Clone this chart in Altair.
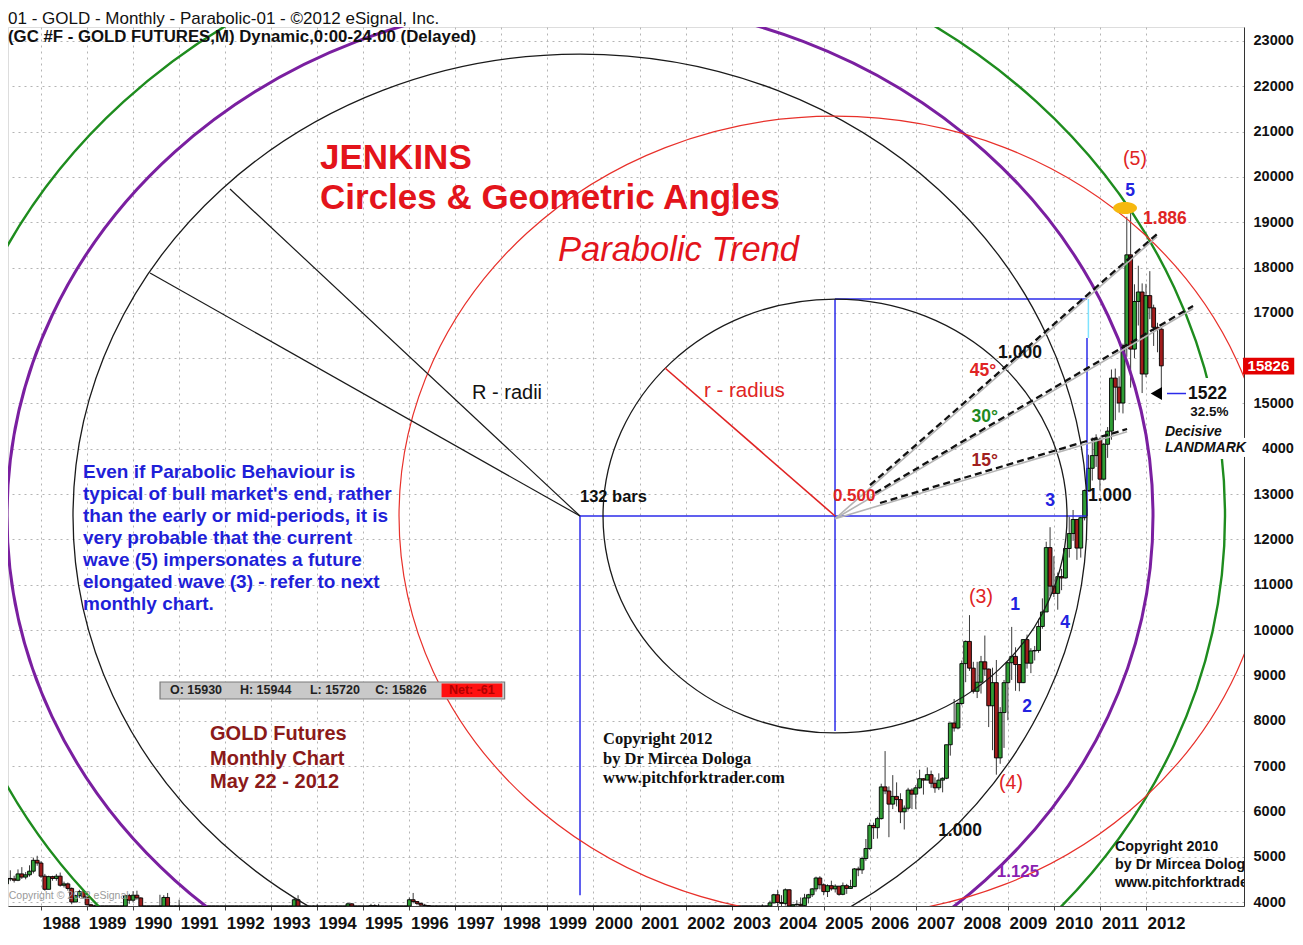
import altair as alt
import pandas as pd

# ---------------- price data: gold futures, monthly bars (US$/oz) from Apr 1987 ----------------
START_YEAR, START_MONTH = 1987, 4
PRICE_MULT = 10  # eSignal quotes the contract in tenths (15826 = 1582.6)

OPEN = [
    [440, 452, 451, 448, 462, 455, 460, 468, 492],                      # 1987 Apr-Dec
    [486, 457, 428, 456, 452, 457, 437, 440, 430, 400, 414, 423],       # 1988
    [411, 394, 389, 385, 379, 365, 374, 373, 360, 367, 377, 414],       # 1989
    [404, 415, 409, 370, 368, 364, 353, 370, 390, 410, 380, 384],       # 1990
    [389, 368, 363, 356, 357, 361, 368, 363, 355, 356, 358, 366],       # 1991
    [353, 354, 353, 342, 337, 337, 343, 357, 339, 349, 339, 334],       # 1992
    [333, 330, 327, 337, 355, 378, 379, 405, 373, 355, 370, 371],       # 1993
    [391, 379, 381, 390, 377, 386, 387, 384, 386, 396, 389, 384],       # 1994
    [384, 376, 376, 392, 390, 385, 388, 384, 383, 384, 383, 388],       # 1995
    [388, 405, 401, 397, 393, 392, 383, 386, 387, 380, 379, 372],       # 1996
    [370, 346, 362, 349, 341, 345, 335, 326, 326, 332, 312, 296],       # 1997
    [290, 304, 297, 301, 309, 294, 297, 289, 274, 295, 292, 294],       # 1998
    [289, 288, 288, 280, 287, 269, 262, 255, 255, 299, 300, 292],       # 1999
    [290, 284, 294, 279, 277, 273, 289, 277, 278, 273, 265, 270],       # 2000
    [274, 266, 267, 258, 264, 267, 271, 265, 273, 293, 279, 275],       # 2001
    [279, 283, 297, 301, 309, 327, 318, 305, 313, 324, 317, 318],       # 2002
    [348, 368, 347, 334, 339, 364, 346, 355, 375, 385, 386, 398],       # 2003
    [416, 399, 397, 427, 388, 394, 395, 392, 409, 416, 429, 453],       # 2004
    [438, 423, 436, 429, 435, 417, 436, 430, 434, 473, 471, 496],       # 2005
    [518, 569, 564, 584, 654, 645, 616, 633, 626, 599, 607, 647],       # 2006
    [638, 652, 672, 669, 681, 662, 652, 669, 673, 747, 795, 784],       # 2007
    [838, 926, 975, 916, 865, 885, 930, 914, 833, 884, 718, 818],       # 2008
    [884, 928, 942, 924, 884, 979, 927, 954, 955, 1008, 1040, 1182],    # 2009
    [1097, 1081, 1118, 1115, 1180, 1213, 1244, 1181, 1248, 1308, 1357, 1385],  # 2010
    [1421, 1333, 1410, 1439, 1556, 1536, 1501, 1628, 1828, 1620, 1725, 1746],  # 2011
    [1565, 1738, 1711, 1668, 1664],                                      # 2012 Jan-May
]
HIGH = [
    [478, 470, 458, 472, 477, 466, 481, 498, 502],
    [490, 462, 458, 458, 462, 465, 445, 443, 432, 416, 427, 428],
    [412, 396, 394, 390, 384, 376, 380, 375, 370, 380, 416, 418],
    [424, 425, 410, 380, 375, 364, 375, 416, 415, 420, 387, 392],
    [405, 370, 365, 362, 362, 372, 372, 365, 359, 363, 368, 368],
    [360, 360, 355, 345, 343, 345, 361, 358, 353, 350, 339, 337],
    [334, 335, 340, 358, 380, 380, 409, 415, 375, 373, 376, 392],
    [395, 389, 393, 390, 390, 392, 388, 387, 399, 397, 391, 384],
    [384, 380, 396, 395, 396, 390, 390, 390, 388, 388, 390, 390],
    [410, 420, 401, 398, 396, 392, 389, 392, 389, 384, 384, 377],
    [370, 366, 364, 352, 350, 345, 336, 331, 336, 336, 316, 299],
    [305, 306, 302, 315, 310, 298, 297, 289, 299, 307, 300, 297],
    [292, 290, 296, 291, 290, 270, 265, 258, 300, 340, 303, 292],
    [295, 316, 295, 290, 280, 294, 292, 281, 280, 276, 272, 276],
    [274, 269, 267, 265, 293, 276, 271, 281, 294, 293, 280, 282],
    [289, 304, 304, 311, 329, 330, 324, 318, 326, 325, 323, 350],
    [383, 389, 354, 342, 376, 372, 366, 377, 395, 392, 403, 418],
    [427, 415, 430, 428, 396, 404, 410, 418, 418, 431, 456, 457],
    [441, 439, 447, 439, 435, 443, 440, 449, 475, 478, 500, 539],
    [575, 575, 588, 661, 733, 655, 680, 664, 640, 613, 652, 651],
    [658, 692, 673, 697, 690, 675, 684, 675, 747, 795, 848, 842],
    [933, 977, 1033, 930, 930, 943, 988, 915, 917, 934, 830, 890],
    [930, 1007, 962, 925, 980, 990, 960, 965, 1025, 1070, 1195, 1227],
    [1163, 1127, 1135, 1180, 1250, 1265, 1245, 1250, 1310, 1387, 1425, 1432],
    [1425, 1413, 1448, 1575, 1577, 1560, 1632, 1912, 1923, 1763, 1804, 1765],
    [1764, 1792, 1718, 1678, 1667],
]
LOW = [
    [436, 446, 443, 446, 451, 450, 456, 463, 480],
    [453, 425, 428, 447, 447, 434, 432, 425, 395, 400, 409, 408],
    [392, 383, 380, 377, 360, 358, 365, 356, 358, 363, 376, 396],
    [400, 405, 365, 363, 361, 344, 350, 368, 384, 375, 374, 371],
    [366, 357, 350, 354, 352, 358, 361, 353, 345, 352, 357, 352],
    [349, 351, 339, 334, 333, 335, 343, 337, 338, 338, 330, 332],
    [326, 326, 326, 336, 354, 365, 376, 371, 349, 352, 361, 368],
    [375, 375, 376, 370, 372, 377, 380, 376, 384, 385, 381, 374],
    [372, 371, 375, 387, 382, 383, 382, 380, 381, 381, 382, 384],
    [386, 397, 393, 388, 387, 380, 380, 384, 378, 376, 369, 366],
    [345, 339, 345, 337, 339, 335, 318, 319, 320, 307, 293, 283],
    [277, 291, 289, 301, 292, 288, 286, 272, 273, 286, 290, 285],
    [284, 285, 278, 278, 267, 259, 252, 251, 254, 295, 288, 279],
    [281, 281, 276, 271, 270, 270, 275, 271, 270, 264, 262, 268],
    [262, 255, 255, 255, 264, 263, 264, 265, 271, 278, 271, 272],
    [277, 282, 288, 299, 307, 314, 301, 300, 311, 310, 314, 318],
    [345, 345, 325, 320, 339, 344, 342, 354, 370, 370, 371, 397],
    [390, 390, 392, 381, 372, 384, 385, 387, 397, 411, 423, 428],
    [415, 411, 425, 421, 414, 415, 418, 429, 433, 457, 462, 491],
    [515, 539, 540, 582, 638, 543, 605, 611, 574, 560, 602, 605],
    [605, 650, 637, 669, 652, 641, 647, 642, 671, 723, 776, 781],
    [834, 885, 910, 860, 850, 860, 899, 786, 735, 681, 705, 740],
    [801, 890, 866, 865, 883, 915, 905, 933, 950, 1003, 1040, 1075],
    [1073, 1045, 1088, 1114, 1160, 1197, 1155, 1160, 1242, 1305, 1330, 1360],
    [1308, 1330, 1380, 1420, 1463, 1480, 1478, 1603, 1535, 1600, 1672, 1523],
    [1558, 1686, 1627, 1613, 1527],
]
CLOSE = [
    [452, 451, 448, 462, 455, 460, 468, 492, 486],
    [457, 428, 456, 452, 457, 437, 440, 430, 400, 414, 423, 411],
    [394, 389, 385, 379, 365, 374, 373, 360, 367, 377, 414, 404],
    [415, 409, 370, 368, 364, 353, 370, 390, 410, 380, 384, 389],
    [368, 363, 356, 357, 361, 368, 363, 355, 356, 358, 366, 353],
    [354, 353, 342, 337, 337, 343, 357, 339, 349, 339, 334, 333],
    [330, 327, 337, 355, 378, 379, 405, 373, 355, 370, 371, 391],
    [379, 381, 390, 377, 386, 387, 384, 386, 396, 389, 384, 384],
    [376, 376, 392, 390, 385, 388, 384, 383, 384, 383, 388, 388],
    [405, 401, 397, 393, 392, 383, 386, 387, 380, 379, 372, 370],
    [346, 362, 349, 341, 345, 335, 326, 326, 332, 312, 296, 290],
    [304, 297, 301, 309, 294, 297, 289, 274, 295, 292, 294, 289],
    [288, 288, 280, 287, 269, 262, 255, 255, 299, 300, 292, 290],
    [284, 294, 279, 277, 273, 289, 277, 278, 273, 265, 270, 274],
    [266, 267, 258, 264, 267, 271, 265, 273, 293, 279, 275, 279],
    [283, 297, 301, 309, 327, 318, 305, 313, 324, 317, 318, 348],
    [368, 347, 334, 339, 364, 346, 355, 375, 385, 386, 398, 416],
    [399, 397, 427, 388, 394, 395, 392, 409, 416, 429, 453, 438],
    [423, 436, 429, 435, 417, 436, 430, 434, 473, 471, 496, 518],
    [569, 564, 584, 654, 645, 616, 633, 626, 599, 607, 647, 638],
    [652, 672, 669, 681, 662, 652, 669, 673, 747, 795, 784, 838],
    [926, 975, 916, 865, 885, 930, 914, 833, 884, 718, 818, 884],
    [928, 942, 924, 884, 979, 927, 954, 955, 1008, 1040, 1182, 1097],
    [1081, 1118, 1115, 1180, 1213, 1244, 1181, 1248, 1308, 1357, 1385, 1421],
    [1333, 1410, 1439, 1556, 1536, 1501, 1628, 1828, 1620, 1725, 1746, 1565],
    [1738, 1711, 1668, 1664, 1583],
]

YEAR_TICKS = list(range(1988, 2013))
PRICE_TICKS = list(range(4000, 24000, 1000))

# ---------------- annotation geometry (in chart units: decimal year, price x10) ----------------
ORIGIN = (1999.707, 12517)      # "132 bars" start
MID = (2005.246, 12517)         # 0.500 point
END3 = (2010.719, 12517)        # wave 3 end
TOP_BOX = 17305
PEAK = (2011.545, 19313)
LOW_1522 = 15220

HEADER_1 = "01 - GOLD -  Monthly - Parabolic-01 - ©2012 eSignal, Inc."
HEADER_2 = "(GC #F - GOLD FUTURES,M) Dynamic,0:00-24:00 (Delayed)"
TITLE_LINES = ["JENKINS", "Circles & Geometric Angles"]
NOTE_LINES = [
    "Even if Parabolic Behaviour is",
    "typical of bull market's end, rather",
    "than the early or mid-periods, it is",
    "very probable that the current",
    "wave (5) impersonates a future",
    "elongated wave (3) - refer to next",
    "monthly chart.",
]
INFO_LINES = ["GOLD Futures", "Monthly Chart", "May 22 - 2012"]
COPY_2012 = ["Copyright 2012", "by Dr Mircea Dologa", "www.pitchforktrader.com"]
COPY_2010 = ["Copyright 2010", "by Dr Mircea Dologa", "www.pitchforktrader.com"]
OHLC_TEXT = ["O: 15930", "H: 15944", "L: 15720", "C: 15826"]
NET_TEXT = "Net: -61"
LAST_PRICE = "15826"

SANS = "Liberation Sans"
SERIF = "Liberation Serif"

# ---------------- build candle table ----------------
flat = lambda rows: [v for r in rows for v in r]
o, h, l, c = flat(OPEN), flat(HIGH), flat(LOW), flat(CLOSE)
t = [START_YEAR + (START_MONTH - 1 + i) / 12 for i in range(len(c))]
bars = pd.DataFrame({
    "t": t,
    "open": [v * PRICE_MULT for v in o],
    "high": [v * PRICE_MULT for v in h],
    "low": [v * PRICE_MULT for v in l],
    "close": [v * PRICE_MULT for v in c],
})
bars["dir"] = ["up" if cc >= oo else "down" for oo, cc in zip(o, c)]

X = alt.Scale(domain=[1987.283, 2014.129], nice=False, zero=False, padding=0)
Y = alt.Scale(domain=[3912, 23307], nice=False, zero=False, clamp=True, padding=0)

X_AXIS = alt.Axis(values=YEAR_TICKS, format="d", labelOffset=20, tickSize=4, tickColor="#444",
                  labelPadding=5, labelFont=SANS, labelFontSize=17, labelFontWeight="bold",
                  labelColor="#111", grid=True, gridDash=[2, 4], gridColor="#b4b4b4",
                  domainColor="#444", labelOverlap=False, labelFlush=False, labelBound=False,
                  title=None)
Y_AXIS = alt.Axis(orient="right", values=PRICE_TICKS, format="d", tickSize=0, labelPadding=9,
                  labelFont=SANS, labelFontSize=14.5, labelFontWeight="bold", labelColor="#111",
                  labelExpr="datum.value == 16000 ? '' : datum.label",
                  grid=True, gridDash=[2, 4], gridColor="#b4b4b4", domainColor="#333",
                  labelOverlap=False, labelFlush=False, labelBound=False, title=None)


def xe(field="t"):
    return alt.X(f"{field}:Q", scale=X, axis=X_AXIS)


def ye(field="p"):
    return alt.Y(f"{field}:Q", scale=Y, axis=Y_AXIS)


def segs(rows, **kw):
    d = pd.DataFrame(rows, columns=["t", "p", "t2", "p2"])
    return alt.Chart(d).mark_rule(**kw).encode(x=xe(), y=ye(), x2="t2:Q", y2="p2:Q")


def rects(rows, **kw):
    d = pd.DataFrame(rows, columns=["t", "p", "t2", "p2"])
    return alt.Chart(d).mark_rect(**kw).encode(x=xe(), y=ye(), x2="t2:Q", y2="p2:Q")


def texts(rows, **kw):
    d = pd.DataFrame(rows, columns=["label", "t", "p"])
    style = dict(font=SANS, baseline="middle", align="left")
    style.update(kw)
    return alt.Chart(d).mark_text(**style).encode(x=xe(), y=ye(), text="label:N")


def ellipse_path(k):
    K = 0.5523
    return (f"M 1 0 C 1 {k*K:.4f} {K} {k:.4f} 0 {k:.4f} C {-K} {k:.4f} -1 {k*K:.4f} -1 0 "
            f"C -1 {-k*K:.4f} {-K} {-k:.4f} 0 {-k:.4f} C {K} {-k:.4f} 1 {-k*K:.4f} 1 0 Z")


def ring(center, semi_x, ratio, color, width, filled=False):
    d = pd.DataFrame({"t": [center[0]], "p": [center[1]]})
    kw = dict(shape=ellipse_path(ratio), size=(2 * semi_x) ** 2, filled=filled, color=color,
              opacity=1, clip=True)
    if not filled:
        kw["strokeWidth"] = width
    return alt.Chart(d).mark_point(**kw).encode(x=xe(), y=ye())


layers = []

# candles
layers.append(alt.Chart(bars).mark_rule(color="#3a3a3a", strokeWidth=1).encode(
    x=xe(), y=ye("low"), y2="high:Q"))
layers.append(alt.Chart(bars).mark_bar(size=3.84, stroke="black", strokeWidth=0.9).encode(
    x=xe(), y=ye("open"), y2="close:Q",
    color=alt.Color("dir:N", scale=alt.Scale(domain=["up", "down"], range=["#2f9e35", "#a01c1c"]),
                    legend=None)))

# blue construction lines
layers.append(segs([
    (ORIGIN[0], ORIGIN[1], END3[0], END3[1]),
    (ORIGIN[0], ORIGIN[1], ORIGIN[0], 4150),
    (MID[0], TOP_BOX, MID[0], 7773),
    (MID[0], TOP_BOX, END3[0], TOP_BOX),
    (END3[0], 16445, END3[0], END3[1]),
], color="#2b2bea", strokeWidth=1.5))
layers.append(segs([(END3[0] + 0.03, TOP_BOX, END3[0] + 0.03, 16445)], color="#7fe3ff",
                   strokeWidth=1.5))

# circles (drawn as slightly flattened ellipses as on the screen)
layers.append(ring(ORIGIN, 645, 0.909, "#1e8c1e", 2.4))
layers.append(ring(ORIGIN, 573, 0.899, "#7a1fa0", 3))
layers.append(ring(ORIGIN, 507, 0.911, "#1a1a1a", 1.3))
layers.append(ring(MID, 436, 0.917, "#e8302a", 1.2))
layers.append(ring(MID, 232, 0.935, "#1a1a1a", 1.3))

# radii
layers.append(segs([(ORIGIN[0], ORIGIN[1], 1990.368, 17879),
                    (ORIGIN[0], ORIGIN[1], 1992.105, 19732)], color="#1a1a1a", strokeWidth=1.2))
layers.append(segs([(MID[0], MID[1], 2001.553, 15783)], color="#e02424", strokeWidth=1.6))

# angle lines (shadow + dashed)
layers.append(segs([(MID[0], MID[1] - 60, 2012.240, 18680),
                    (MID[0], MID[1] - 60, 2013.022, 17090),
                    (MID[0], MID[1] - 60, 2011.589, 14377)], color="#b4b4b4", strokeWidth=1.6))
layers.append(segs([(2006.006, 13197, 2012.240, 18740),
                    (2006.115, 13025, 2013.022, 17151),
                    (2006.224, 12804, 2011.589, 14437)], color="#111", strokeWidth=2.3,
                   strokeDash=[7, 4]))

# peak marker
layers.append(ring(PEAK, 12, 0.5, "#f6b80f", 0, filled=True))

# white box behind "Decisive LANDMARK" and red last-price tag
layers.append(rects([(2012.39, 13775, 2014.06, 15560), (2014.06, 13820, 2014.53, 14240)],
                    color="white"))
layers.append(rects([(2014.108, 15640, 2015.22, 16010)], color="#e30000"))

# arrow to 1522
layers.append(segs([(2012.457, LOW_1522, 2012.87, LOW_1522)], color="#2b2bea", strokeWidth=1.5))
layers.append(alt.Chart(pd.DataFrame({"t": [2012.225], "p": [LOW_1522]})).mark_point(
    shape="triangle-left", size=170, filled=True, color="black", opacity=1).encode(x=xe(), y=ye()))

# OHLC info box
layers.append(rects([(1990.585, 8479, 1998.07, 8854)], color="#c9c9c9", stroke="#7a7a7a",
                    strokeWidth=1.2))
layers.append(rects([(1996.70, 8520, 1998.02, 8820)], color="#ff1010"))
layers.append(texts(list(zip(OHLC_TEXT, [1990.80, 1992.32, 1993.84, 1995.26], [8672] * 4)),
                    fontSize=12.5, fontWeight="bold", color="#222"))
layers.append(texts([(NET_TEXT, 1996.86, 8672)], fontSize=12.5, fontWeight="bold", color="#b00000"))

# headers
layers.append(alt.Chart(pd.DataFrame({"label": [HEADER_1]})).mark_text(
    align="left", baseline="alphabetic", font=SANS, fontSize=17, color="#111").encode(
    x=alt.value(0), y=alt.value(-3.5), text="label:N"))
layers.append(texts([(HEADER_2, 1987.283, 22975)], fontSize=16.8, fontWeight="bold", color="#111",
                    baseline="alphabetic"))

# titles
layers.append(texts(list(zip(TITLE_LINES, [1994.06] * 2, [20416, 19534])), fontSize=35,
                    fontWeight="bold", color="#e3141b"))
layers.append(texts([("Parabolic Trend", 1999.229, 18364)], fontSize=34.5, fontStyle="italic",
                    color="#e3141b"))

# explanation note
layers.append(texts(list(zip(NOTE_LINES, [1988.912] * 7,
                             [13488 - 485 * i for i in range(len(NOTE_LINES))])),
                    fontSize=19, fontWeight="bold", color="#1f1fd8"))
layers.append(texts(list(zip(INFO_LINES, [1991.671] * 3, [7707, 7155, 6648])), fontSize=20,
                    fontWeight="bold", color="#8b1a1a"))
layers.append(texts(list(zip(COPY_2012, [2000.207] * 3, [7597, 7155, 6736])), font=SERIF,
                    fontSize=16.5, fontWeight="bold", color="#111"))
layers.append(texts(list(zip(COPY_2010, [2011.327] * 3, [5214, 4816, 4419])), fontSize=14.3,
                    fontWeight="bold", color="#111", clip=True))
layers.append(texts([("Copyright © 2012 eSignal", 1987.30, 4132)], fontSize=10.5, color="#9a9a9a"))

# construction labels
layers.append(texts([("R - radii", 1997.362, 15231)], fontSize=20, color="#111"))
layers.append(texts([("r - radius", 2002.40, 15275)], fontSize=20.5, color="#e02424"))
layers.append(texts([("132 bars", 1999.707, 12936)], fontSize=16.5, fontWeight="bold", color="#111"))
layers.append(texts([("0.500", 2005.20, 12958)], fontSize=17, fontWeight="bold", color="#e02424"))
layers.append(texts([("1.000", 2009.264, 16114), ("1.000", 2007.961, 5567)], fontSize=17.5,
                    fontWeight="bold", color="#111", align="center"))
layers.append(texts([("1.000", 2010.741, 12958)], fontSize=17.5, fontWeight="bold", color="#111"))
layers.append(texts([("1.125", 2009.22, 4662)], fontSize=17, fontWeight="bold", color="#8a1fb0",
                    align="center"))
layers.append(texts([("45°", 2008.46, 15717)], fontSize=17.5, fontWeight="bold", color="#e02424",
                    align="center"))
layers.append(texts([("30°", 2008.50, 14702)], fontSize=17.5, fontWeight="bold", color="#1f8a1f",
                    align="center"))
layers.append(texts([("15°", 2008.50, 13731)], fontSize=17.5, fontWeight="bold", color="#a02020",
                    align="center"))

# wave labels
layers.append(texts([("(5)", 2011.762, 20394), ("(3)", 2008.417, 10730), ("(4)", 2009.069, 6626)],
                    fontSize=19.5, color="#e02424", align="center"))
layers.append(texts([("5", 2011.653, 19688), ("1", 2009.156, 10553), ("2", 2009.416, 8303),
                     ("3", 2009.915, 12848), ("4", 2010.241, 10156)],
                    fontSize=17.5, fontWeight="bold", color="#2323e0", align="center"))
layers.append(texts([("1.886", 2011.936, 19070)], fontSize=17.5, fontWeight="bold", color="#e02424"))

# landmark labels
layers.append(texts([("1522", 2012.913, LOW_1522)], fontSize=17.5, fontWeight="bold", color="#111"))
layers.append(texts([("32.5%", 2012.96, 14812)], fontSize=13.5, fontWeight="bold", color="#111"))
layers.append(texts([("Decisive", 2012.413, 14371), ("LANDMARK", 2012.413, 14018)], fontSize=14,
                    fontWeight="bold", fontStyle="italic", color="#111"))
layers.append(texts([(LAST_PRICE, 2014.66, 15825)], fontSize=15, fontWeight="bold", color="white",
                    align="center"))

chart = alt.layer(*layers).properties(
    width=1236, height=879,
    autosize=alt.AutoSizeParams(type="none"),
    padding={"left": 0, "top": 19, "right": 51, "bottom": 26},
).configure_view(stroke="#7a7a7a", strokeWidth=1).configure(background="white")

chart.save("out.html", embed_options={"renderer": "svg", "actions": False})
